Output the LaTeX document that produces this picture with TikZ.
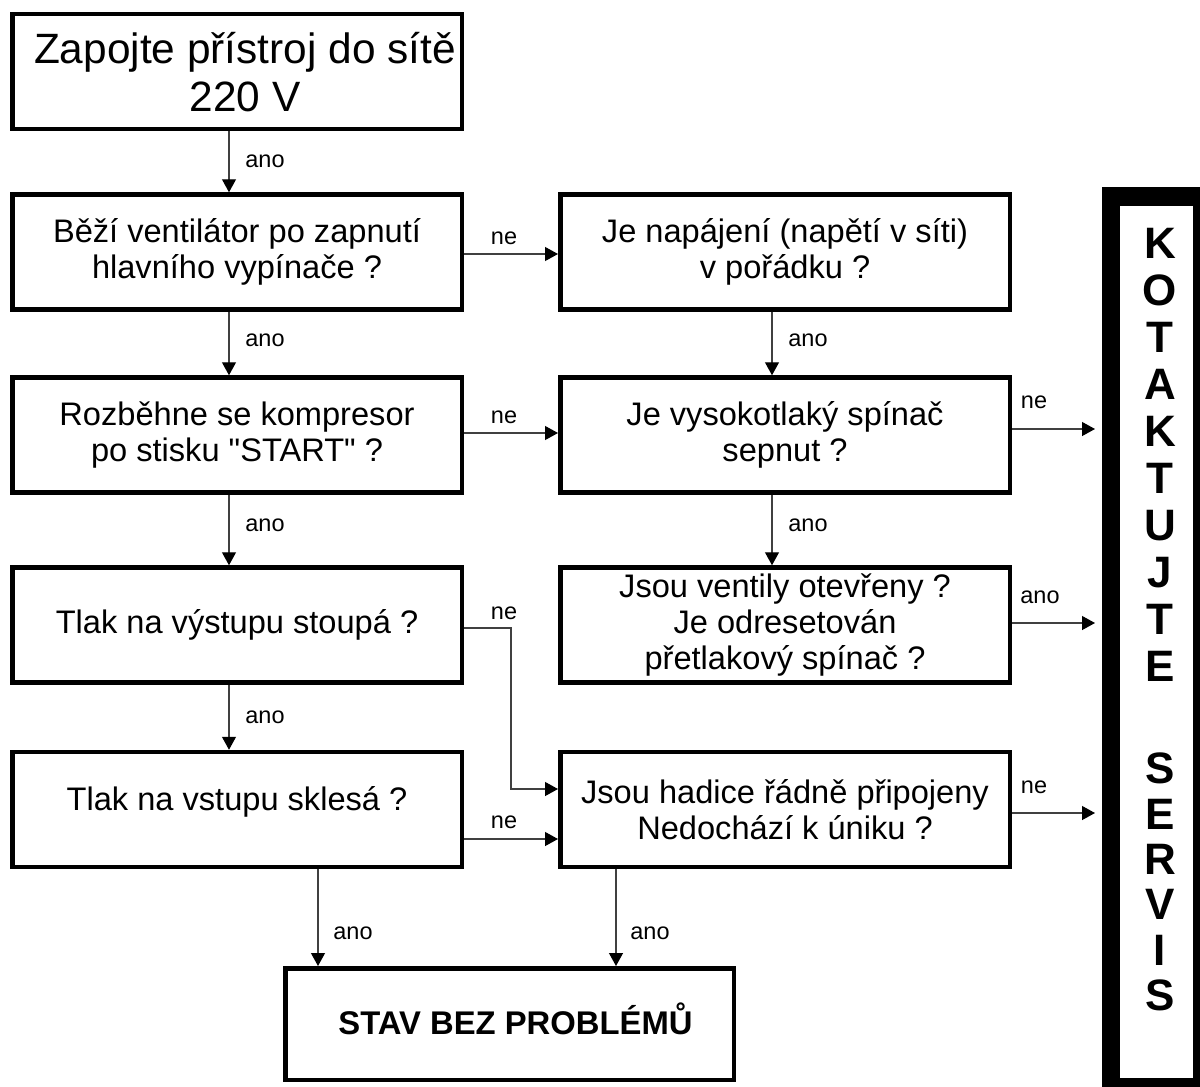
\documentclass[tikz,border=0pt]{standalone}
\usepackage{fontspec}
\setmainfont{Liberation Sans}[Ligatures=TeXOff]
\usetikzlibrary{arrows.meta,calc}
\begin{document}
\begin{tikzpicture}[x=0.5pt,y=-0.5pt,
  box/.style={draw=black,line width=2.25pt,fill=white,minimum width=224.75pt,minimum height=57.5pt,inner sep=0pt,align=center,font=\fontsize{16.3}{18.2}\selectfont},
  conn/.style={draw=black!75,line width=0.6pt,-{Triangle[length=6.5pt,width=7pt,color=black]}},
  lbl/.style={font=\fontsize{11.75}{13}\selectfont,anchor=base,inner sep=0pt}]
\useasboundingbox (0,0) rectangle (1200,1087);
% boxes
\node[box,font=\fontsize{21.2}{24}\selectfont,text depth=0pt] (b1) at (237,71.5) {\hspace*{8pt}Zapojte přístroj do sítě\\\hspace*{8pt}220 V};
\node[box] (b2) at (237,252) {Běží ventilátor po zapnutí\\hlavního vypínače ?};
\node[box] (b3) at (237,435) {Rozběhne se kompresor\\po stisku "START" ?};
\node[box] (b4) at (237,625) {Tlak na výstupu stoupá ?};
\node[box,text depth=11pt] (b5) at (237,809.5) {Tlak na vstupu sklesá ?};
\node[box] (r6) at (785,252) {Je napájení (napětí v síti)\\v pořádku ?};
\node[box] (r7) at (785,435) {Je vysokotlaký spínač\\sepnut ?};
\node[box] (r8) at (785,625) {Jsou ventily otevřeny ?\\Je odresetován\\přetlakový spínač ?};
\node[box] (r9) at (785,809.5) {Jsou hadice řádně připojeny\\Nedochází k úniku ?};
\node[box,minimum width=224.25pt,minimum height=55.75pt,text depth=5pt,font=\bfseries\fontsize{16.4}{18}\selectfont] (bot) at (509.5,1024) {\hspace*{6pt}STAV BEZ PROBLÉMŮ};
% servis box
\fill[black] (1102,187) rectangle (1200,1087);
\fill[white] (1120,206) rectangle (1193,1078);
\node[anchor=north,inner sep=0pt,align=center,font=\bfseries\fontsize{22}{23.5}\selectfont] (servis) at (1160,228)
  {K\\O\\T\\A\\K\\T\\U\\J\\T\\E\\[27.5pt]S\\[-0.8pt]E\\[-0.8pt]R\\[-0.8pt]V\\[-0.8pt]I\\[-0.8pt]S};
% helper coordinates
\coordinate (xa) at (229,0);
\coordinate (xb) at (772,0);
\coordinate (xl) at (318,0);
\coordinate (xr) at (616,0);
\coordinate (h2) at (0,254);
\coordinate (h3) at (0,433);
\coordinate (bend) at (511,628);
\coordinate (in9a) at (0,789);
\coordinate (in9b) at (0,839);
\coordinate (s7) at (1095,429);
\coordinate (s8) at (1095,623);
\coordinate (s9) at (1095,813);
% vertical connectors
\draw[conn] (b1.south -| xa) -- (b2.north -| xa);
\draw[conn] (b2.south -| xa) -- (b3.north -| xa);
\draw[conn] (b3.south -| xa) -- (b4.north -| xa);
\draw[conn] (b4.south -| xa) -- (b5.north -| xa);
\draw[conn] (r6.south -| xb) -- (r7.north -| xb);
\draw[conn] (r7.south -| xb) -- (r8.north -| xb);
\draw[conn] (b5.south -| xl) -- (bot.north -| xl);
\draw[conn] (r9.south -| xr) -- (bot.north -| xr);
% horizontal connectors
\draw[conn] (b2.east |- h2) -- (r6.west |- h2);
\draw[conn] (b3.east |- h3) -- (r7.west |- h3);
\draw[conn] (b4.east |- bend) -- (bend) |- (r9.west |- in9a);
\draw[conn] (b5.east |- in9b) -- (r9.west |- in9b);
\draw[conn] (r7.east |- s7) -- (s7);
\draw[conn] (r8.east |- s8) -- (s8);
\draw[conn] (r9.east |- s9) -- (s9);
% labels
\node[lbl] (l1) at (265,167) {ano};
\node[lbl] (l2) at (265,346) {ano};
\node[lbl] (l3) at (265,531) {ano};
\node[lbl] (l4) at (265,723) {ano};
\node[lbl] (l5) at (808,346) {ano};
\node[lbl] (l6) at (808,531) {ano};
\node[lbl] (l7) at (504,244) {ne};
\node[lbl] (l8) at (504,423) {ne};
\node[lbl] (l9) at (504,619) {ne};
\node[lbl] (l10) at (504,828) {ne};
\node[lbl] (l11) at (1034,408) {ne};
\node[lbl] (l12) at (1040,603) {ano};
\node[lbl] (l13) at (1034,793) {ne};
\node[lbl] (l14) at (353,939) {ano};
\node[lbl] (l15) at (650,939) {ano};
\end{tikzpicture}
\end{document}
